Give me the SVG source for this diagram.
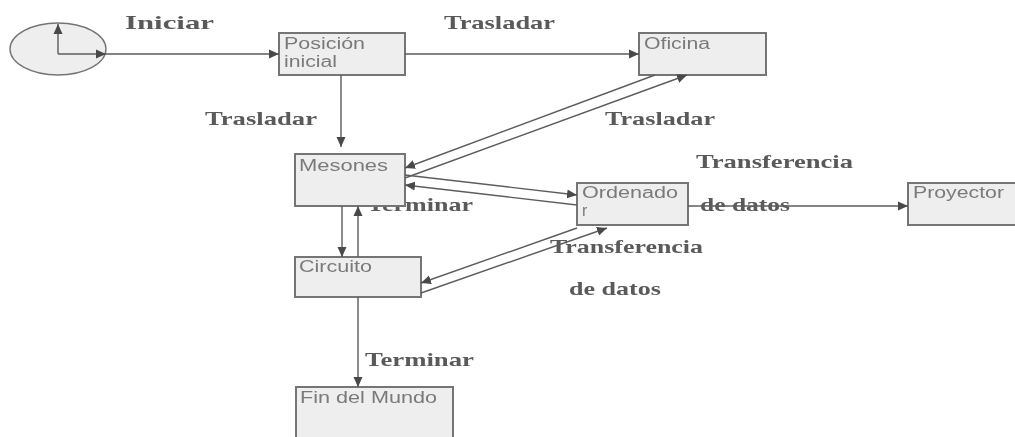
<svg xmlns="http://www.w3.org/2000/svg" width="1015" height="437" viewBox="0 0 1015 437">
<style>
.n{fill:#eeeeee;stroke:#757575;stroke-width:2}
.t{font-family:"Liberation Sans",Arial,sans-serif;font-size:16px;fill:#7a7a7a}
.l{font-family:"Liberation Serif","Times New Roman",serif;font-weight:bold;font-size:19px;fill:#5a5a5a}
.c{fill:none;stroke:#5c5c5c;stroke-width:1.4;marker-end:url(#a)}
</style>
<defs>
<marker id="a" markerUnits="userSpaceOnUse" markerWidth="11" markerHeight="10" refX="10" refY="5" orient="auto"><path d="M0,0.5L10,5L0,9.5z" fill="#4a4a4a"/></marker>
<filter id="b" x="-5%" y="-5%" width="110%" height="110%"><feGaussianBlur stdDeviation="0.7"/></filter>
</defs>
<rect width="1015" height="437" fill="#fff"/>
<g filter="url(#b)">
<g id="labels">
<text class="l" x="125" y="29" textLength="89" lengthAdjust="spacingAndGlyphs">Iniciar</text>
<text class="l" x="444" y="29" textLength="111" lengthAdjust="spacingAndGlyphs">Trasladar</text>
<text class="l" x="205" y="125" textLength="112" lengthAdjust="spacingAndGlyphs">Trasladar</text>
<text class="l" x="605" y="125" textLength="110" lengthAdjust="spacingAndGlyphs">Trasladar</text>
<text class="l" x="696" y="168" textLength="157" lengthAdjust="spacingAndGlyphs">Transferencia</text>
<text class="l" x="700" y="211" textLength="90" lengthAdjust="spacingAndGlyphs">de datos</text>
<text class="l" x="367" y="211" textLength="106" lengthAdjust="spacingAndGlyphs">Terminar</text>
<text class="l" x="550" y="253" textLength="153" lengthAdjust="spacingAndGlyphs">Transferencia</text>
<text class="l" x="569" y="295" textLength="92" lengthAdjust="spacingAndGlyphs">de datos</text>
<text class="l" x="365" y="366" textLength="109" lengthAdjust="spacingAndGlyphs">Terminar</text>
</g>
<g id="start"><ellipse class="n" style="stroke-width:1.4" cx="58" cy="49" rx="48" ry="26"/></g>
<g id="posicion-inicial"><rect class="n" x="279" y="33" width="126" height="42"/><text class="t" x="284" y="49" textLength="81" lengthAdjust="spacingAndGlyphs">Posición</text><text class="t" x="284" y="67" textLength="53" lengthAdjust="spacingAndGlyphs">inicial</text></g>
<g id="oficina"><rect class="n" x="639" y="33" width="127" height="42"/><text class="t" x="644" y="49" textLength="66" lengthAdjust="spacingAndGlyphs">Oficina</text></g>
<g id="mesones"><rect class="n" x="295" y="154" width="110" height="52"/><text class="t" x="299" y="171" textLength="89" lengthAdjust="spacingAndGlyphs">Mesones</text></g>
<g id="ordenador"><rect class="n" x="577" y="183" width="111" height="42"/><text class="t" x="582" y="198" textLength="96" lengthAdjust="spacingAndGlyphs">Ordenado</text><text class="t" x="582" y="216">r</text></g>
<g id="proyector"><rect class="n" x="908" y="183" width="112" height="42"/><text class="t" x="913" y="198" textLength="91" lengthAdjust="spacingAndGlyphs">Proyector</text></g>
<g id="circuito"><rect class="n" x="295" y="257" width="126" height="40"/><text class="t" x="299" y="272" textLength="73" lengthAdjust="spacingAndGlyphs">Circuito</text></g>
<g id="fin-del-mundo"><rect class="n" x="296" y="387" width="157" height="60"/><text class="t" x="300" y="403" textLength="137" lengthAdjust="spacingAndGlyphs">Fin del Mundo</text></g>
<g id="connectors">
<path class="c" d="M58,54V24"/>
<path class="c" d="M58,54H106"/>
<path class="c" d="M106,54H279"/>
<path class="c" d="M405,54H639"/>
<path class="c" d="M341,75V147"/>
<path class="c" d="M655,75L405,168"/>
<path class="c" d="M405,178L687,75"/>
<path class="c" d="M405,175L577,195"/>
<path class="c" d="M577,205L405,185"/>
<path class="c" d="M342,206V257"/>
<path class="c" d="M358,257V206"/>
<path class="c" d="M577,228L421,283"/>
<path class="c" d="M421,293L607,228"/>
<path class="c" d="M358,297V387"/>
<path class="c" d="M688,206H908"/>
</g>
</g>
</svg>
